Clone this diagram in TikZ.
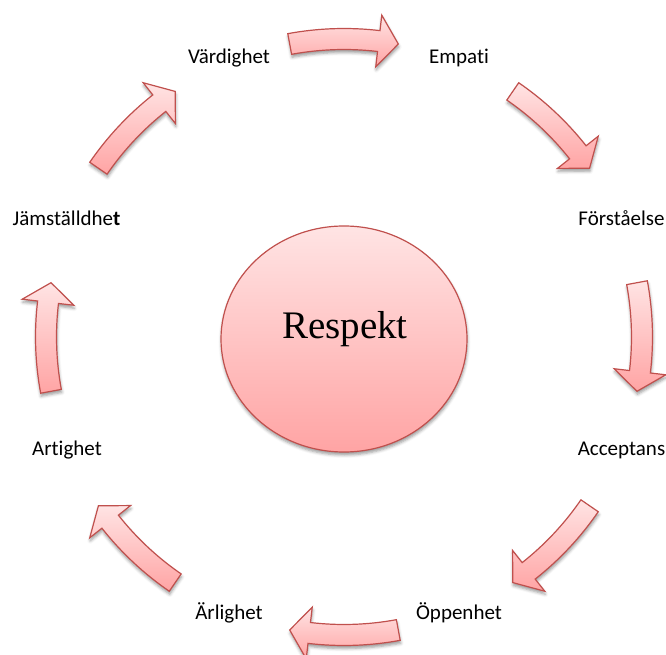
\documentclass[tikz,border=0pt]{standalone}
\usepackage{fontspec}
\setmainfont{Carlito}[Ligatures=NoCommon]
\newfontfamily\respektfont{Liberation Serif}
\usetikzlibrary{shapes.geometric,shadows.blur}

\definecolor{rimred}{RGB}{192,80,77}
\definecolor{pinklight}{RGB}{255,228,228}
\definecolor{pinkdark}{RGB}{255,164,164}

\tikzset{
  softshadow/.style={blur shadow={shadow xshift=0.5pt, shadow yshift=-3pt,
      shadow blur radius=3pt, shadow opacity=40}},
  cyclearrow/.style={draw=rimred, line width=1.2pt, line join=miter,
      top color=pinklight, bottom color=pinkdark, softshadow},
  hub/.style={ellipse, draw=rimred, line width=1.2pt, inner sep=0pt,
      minimum width=246pt, minimum height=226pt,
      top color=pinklight, bottom color=pinkdark, softshadow},
  value/.style={anchor=base, inner sep=0pt, font=\fontsize{21}{25}\selectfont},
}

% curved block arrow on the ring of radius 298, centred on angle #1, running clockwise
\newcommand\cyclearc[1]{%
  \path[cyclearrow]
    ({#1+10.5}:308.5) arc[start angle={#1+10.5}, end angle={#1-6.7}, radius=308.5]
    -- ({#1-6.7}:324) -- ({#1-10.5}:298) -- ({#1-6.7}:272) -- ({#1-6.7}:287.5)
    arc[start angle={#1-6.7}, end angle={#1+10.5}, radius=287.5] -- cycle;}

\begin{document}
\begin{tikzpicture}[x=1pt, y=1pt]
  \useasboundingbox (-344,-318) rectangle (322,337);

  % centre
  \node[hub] (hub) at (0,-2) {};
  \node[anchor=base, inner sep=0pt, font=\respektfont\fontsize{39}{44}\selectfont]
    (hubtext) at (1,-1.3) {Respekt};

  % ring of arrows
  \foreach \a in {90,45,0,-45,-90,-135,180,135} {\cyclearc{\a}}

  % values around the ring
  \node[value] (vardighet)  at (-115, 273.5) {Värdighet};
  \node[value] (empati)     at ( 115, 273.5) {Empati};
  \node[value] (forstaelse) at ( 277.5, 111.4) {Förståelse};
  \node[value] (acceptans)  at ( 277.5,-119) {Acceptans};
  \node[value] (oppenhet)   at ( 115,-282) {Öppenhet};
  \node[value] (arlighet)   at (-115,-282) {Ärlighet};
  \node[value] (artighet)   at (-277,-119) {Artighet};
  \node[value] (jamstalld)  at (-277.5, 111.4) {Jämställdhe\textbf{t}};
\end{tikzpicture}
\end{document}
